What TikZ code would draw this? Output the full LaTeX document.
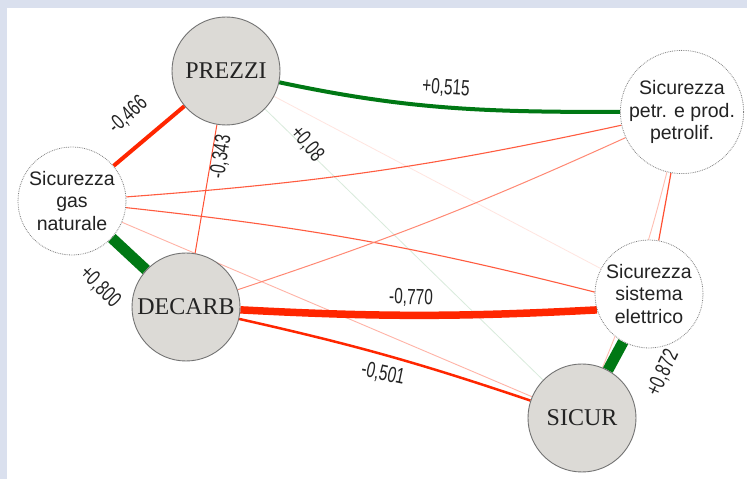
\documentclass[tikz,border=0pt]{standalone}
\usepackage{fontspec}
\setmainfont{Liberation Sans}
\newfontfamily\lblfont[FakeStretch=0.7]{Liberation Sans}
\newfontfamily\capfont{Liberation Serif}
\definecolor{bgblue}{RGB}{218,224,238}
\definecolor{gr}{RGB}{0,120,20}
\definecolor{rd}{RGB}{255,38,0}
\definecolor{nodefill}{RGB}{220,218,214}
\definecolor{txt}{RGB}{35,35,35}
\pgfdeclarelayer{bglayer}
\pgfdeclarelayer{edgelayer}
\pgfsetlayers{bglayer,edgelayer,main}
\tikzset{
  mainnode/.style={circle, draw=black!55, line width=0.9bp, fill=nodefill,
    minimum size=108bp, inner sep=0pt, font=\capfont\fontsize{24bp}{26bp}\selectfont, text=txt},
  subnode/.style={circle, draw=black!50, densely dotted, line width=0.8bp, fill=white,
    minimum size=108bp, inner sep=0pt, align=center,
    font=\fontsize{19.5bp}{22.5bp}\selectfont, text=txt},
  lbl/.style={font=\lblfont\fontsize{22bp}{24bp}\selectfont, text=txt, inner sep=0pt},
  posedge/.style={draw=gr},
  negedge/.style={draw=rd},
}
\begin{document}
\begin{tikzpicture}[x=1bp,y=1bp]
\useasboundingbox (0,0) rectangle (747,479);
\begin{pgfonlayer}{bglayer}
  \fill[bgblue] (0,0) rectangle (747,479);
  \fill[white] (7,0) rectangle (747,471);
\end{pgfonlayer}

% nodes
\node[mainnode] (prezzi) at (226,408) {PREZZI};
\node[subnode]  (gas)    at (72,278)  {Sicurezza\\gas\\naturale};
\node[mainnode] (decarb) at (186,172) {DECARB};
\node[subnode]  (petr)   at (682,367) {Sicurezza\\petr. e prod.\\petrolif.};
\node[subnode]  (ele)    at (649,185) {Sicurezza\\sistema\\elettrico};
\node[mainnode] (sicur)  at (582,61)  {SICUR};

% edges
\begin{pgfonlayer}{edgelayer}
  \draw[negedge, draw=rd!30, line width=0.9bp] (petr) to[bend left=4] (sicur);
  \draw[draw=rd!12, line width=0.8bp] (prezzi) -- (ele);
  \draw[draw=gr!15, line width=0.8bp] (prezzi) -- (sicur);
  \draw[negedge, draw=rd!35, line width=0.9bp] (gas) -- (sicur);
  \draw[negedge, draw=rd!75, line width=1.1bp] (gas) to[bend right=4] (petr);
  \draw[negedge, draw=rd!75, line width=1.1bp] (gas.-7) to[bend left=4] (ele.178);
  \draw[negedge, draw=rd!55, line width=1bp] (decarb) to[bend right=3] (petr);
  \draw[negedge, draw=rd!80, line width=1bp] (prezzi) -- (decarb);
  \draw[negedge, draw=rd!80, line width=1.2bp] (petr) -- (ele);
  \draw[posedge, line width=4bp] (prezzi) to[out=-12, in=180] (petr);
  \draw[negedge, line width=4bp] (prezzi) -- (gas);
  \draw[negedge, line width=7.5bp] (decarb.-3) to[out=-3, in=183] (ele.197);
  \draw[negedge, line width=2.5bp] (decarb) to[bend left=3] (sicur);
  \draw[posedge, line width=11bp] (gas) -- (decarb);
  \draw[posedge, line width=11bp] (ele) -- (sicur);
\end{pgfonlayer}

% labels
\node[lbl, rotate=-4]  (l515) at (446,391) {+0,515};
\node[lbl, rotate=42]  (l466) at (128,364) {-0,466};
\node[lbl, rotate=81]  (l343) at (221,322) {-0,343};
\node[lbl, rotate=-50] (l08)  at (307,335) {+0,08};
\node[lbl, rotate=-45] (l800) at (100,192) {+0,800};
\node[lbl, rotate=-2]  (l770) at (411,181) {-0,770};
\node[lbl, rotate=-12] (l501) at (383,105) {-0,501};
\node[lbl, rotate=65]  (l872) at (663,106) {+0,872};
\end{tikzpicture}
\end{document}
